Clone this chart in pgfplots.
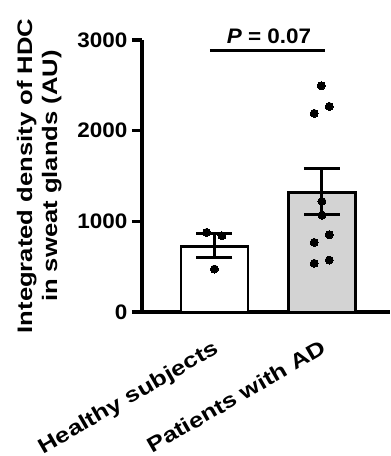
\documentclass[border=0pt]{standalone}
\usepackage{pgfplots}
\pgfplotsset{compat=1.18}
\usepackage{fontspec}
\setmainfont{Liberation Sans}
\newfontfamily\numfont{Liberation Sans}[FakeStretch=1.07]
\newfontfamily\labfont{Liberation Sans}[FakeStretch=1.22]
\begin{document}
\begin{tikzpicture}
\begin{axis}[
  at={(0pt,0pt)}, anchor=south west,
  scale only axis, width=248pt, height=272pt,
  xmin=-0.674, xmax=1.633, ymin=0, ymax=3000,
  axis lines=left,
  axis line style={-, line width=3.2pt},
  clip=false,
  ytick={0,1000,2000,3000},
  xtick={0,1},
  xticklabels={Healthy subjects, Patients with AD},
  tick align=outside,
  major tick length=10pt,
  ytick style={line width=3.2pt, black},
  xtick style={draw=none},
  /pgf/number format/assume math mode=true,
  /pgf/number format/1000 sep={},
  yticklabel style={font=\numfont\bfseries\fontsize{21}{25}\selectfont, inner sep=1.5pt, xshift=-3pt},
  xticklabel style={font=\labfont\bfseries\fontsize{21}{25}\selectfont, xshift=-2pt, yshift=-17pt, rotate=30, anchor=north east, inner sep=0pt},
  ylabel={Integrated density of HDC\\in sweat glands (AU)},
  every axis y label/.style={at={(axis description cs:-0.323,0.5)}, rotate=90, anchor=south, inner sep=0pt,
     font=\labfont\bfseries\fontsize{21}{25}\selectfont, align=center},
]
\addplot[ybar, bar shift=0pt, bar width=67pt, fill=white, draw=black, line width=2.6pt,
  error bars/.cd, y dir=both, y explicit,
  error bar style={line width=3pt, black},
  error mark options={rotate=90, mark size=18pt, line width=3pt, black}]
  coordinates {(0,720) += (0,151) -= (0,117)};
\addplot[ybar, bar shift=0pt, bar width=67pt, fill={rgb,255:red,211;green,211;blue,211}, draw=black, line width=2.6pt,
  error bars/.cd, y dir=both, y explicit,
  error bar style={line width=3pt, black},
  error mark options={rotate=90, mark size=18pt, line width=3pt, black}]
  coordinates {(1,1320) += (0,264) -= (0,240)};
\addplot[only marks, mark=*, mark size=4pt, black, mark options={fill=black, draw=black, line width=0pt}]
  coordinates {(-0.073,878) (0.07,841) (0,474)
  (0.993,2495) (0.928,2191) (1.068,2268) (1,1220) (1,1069)
  (0.928,768) (1.068,852) (0.928,537) (1.068,573)};
\addplot[black, line width=2.6pt, mark=none] coordinates {(-0.042,2881) (1.028,2881)};
\node[font=\numfont\bfseries\fontsize{21}{25}\selectfont, anchor=base, inner sep=0pt] at (axis cs:0.507,2966) {\textit{P} = 0.07};
\end{axis}
\pgfresetboundingbox
\path[use as bounding box] (-142pt,-144pt) rectangle (249pt,312pt);
\end{tikzpicture}
\end{document}
